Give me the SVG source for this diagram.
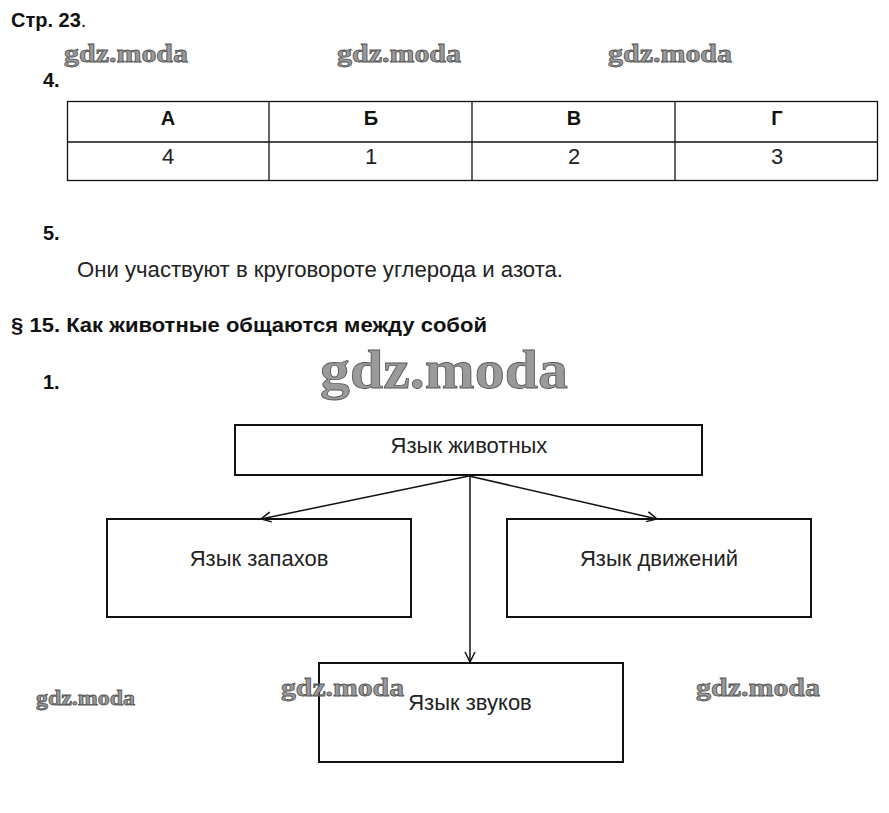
<svg xmlns="http://www.w3.org/2000/svg" width="889" height="813" viewBox="0 0 889 813">
<style>
.b{font-family:"Liberation Sans",Arial,sans-serif;font-weight:bold;fill:#111;font-size:20px}
.t{font-family:"Liberation Sans",Arial,sans-serif;fill:#222;font-size:22px}
.c{text-anchor:middle}
.wm{font-family:"Liberation Serif","Times New Roman",serif;font-weight:bold;fill:#9a9a9a;stroke:#555;stroke-width:0.8}
.box{fill:none;stroke:#111;stroke-width:2}
.ln{stroke:#111;stroke-width:1.5;fill:none}
</style>
<defs>
<marker id="ah" viewBox="0 0 12 12" refX="11" refY="6" markerWidth="12" markerHeight="12" markerUnits="userSpaceOnUse" orient="auto">
<path d="M1,1 L11,6 L1,11" fill="none" stroke="#111" stroke-width="1.5"/>
</marker>
</defs>
<rect width="889" height="813" fill="#fff"/>
<text class="b" x="11" y="27" font-size="22">Стр. 23<tspan font-weight="normal">.</tspan></text>
<text class="wm" x="64" y="62" font-size="26" textLength="124" lengthAdjust="spacingAndGlyphs">gdz.moda</text>
<text class="wm" x="337" y="62" font-size="26" textLength="124" lengthAdjust="spacingAndGlyphs">gdz.moda</text>
<text class="wm" x="608" y="62" font-size="26" textLength="124" lengthAdjust="spacingAndGlyphs">gdz.moda</text>
<text class="b" x="43" y="87" font-size="21">4.</text>
<g id="table">
<rect x="67.5" y="101.5" width="810" height="79" fill="none" stroke="#111" stroke-width="1.3"/>
<line x1="67" y1="142" x2="877" y2="142" stroke="#111" stroke-width="1.3"/>
<line x1="269" y1="101" x2="269" y2="181" stroke="#111" stroke-width="1.3"/>
<line x1="472" y1="101" x2="472" y2="181" stroke="#111" stroke-width="1.3"/>
<line x1="675" y1="101" x2="675" y2="181" stroke="#111" stroke-width="1.3"/>
<text class="b c" x="168" y="125" font-size="22">А</text>
<text class="b c" x="371" y="125" font-size="22">Б</text>
<text class="b c" x="574" y="125" font-size="22">В</text>
<text class="b c" x="777" y="125" font-size="22">Г</text>
<text class="t c" x="168" y="164" font-size="21">4</text>
<text class="t c" x="371" y="164" font-size="21">1</text>
<text class="t c" x="574" y="164" font-size="21">2</text>
<text class="t c" x="777" y="164" font-size="21">3</text>
</g>
<text class="b" x="43" y="240" font-size="21">5.</text>
<text class="t" x="77" y="277" textLength="486" lengthAdjust="spacingAndGlyphs">Они участвуют в круговороте углерода и азота.</text>
<text class="b" x="11" y="332" font-size="22" textLength="476" lengthAdjust="spacingAndGlyphs">§ 15. Как животные общаются между собой</text>
<text class="wm" x="320" y="388" font-size="54" stroke-width="1.2" textLength="248" lengthAdjust="spacingAndGlyphs">gdz.moda</text>
<text class="b" x="43" y="389" font-size="21">1.</text>
<g id="connectors">
<line class="ln" x1="469" y1="476" x2="261" y2="519" marker-end="url(#ah)"/>
<line class="ln" x1="469" y1="476" x2="657" y2="519" marker-end="url(#ah)"/>
<line class="ln" x1="470" y1="476" x2="470" y2="662" marker-end="url(#ah)"/>
</g>
<g id="n-animals">
<rect class="box" x="235" y="425" width="467" height="50"/>
<text class="t c" x="469" y="453">Язык животных</text>
</g>
<g id="n-smell">
<rect class="box" x="107" y="519" width="304" height="98"/>
<text class="t c" x="259" y="566">Язык запахов</text>
</g>
<g id="n-move">
<rect class="box" x="507" y="519" width="304" height="98"/>
<text class="t c" x="659" y="566">Язык движений</text>
</g>
<g id="n-sound">
<rect class="box" x="319" y="663" width="304" height="99"/>
<text class="t c" x="470" y="710">Язык звуков</text>
</g>
<text class="wm" x="36" y="705" font-size="21" textLength="99" lengthAdjust="spacingAndGlyphs">gdz.moda</text>
<text class="wm" x="281" y="696" font-size="26" textLength="123" lengthAdjust="spacingAndGlyphs">gdz.moda</text>
<text class="wm" x="696" y="696" font-size="26" textLength="124" lengthAdjust="spacingAndGlyphs">gdz.moda</text>
</svg>
